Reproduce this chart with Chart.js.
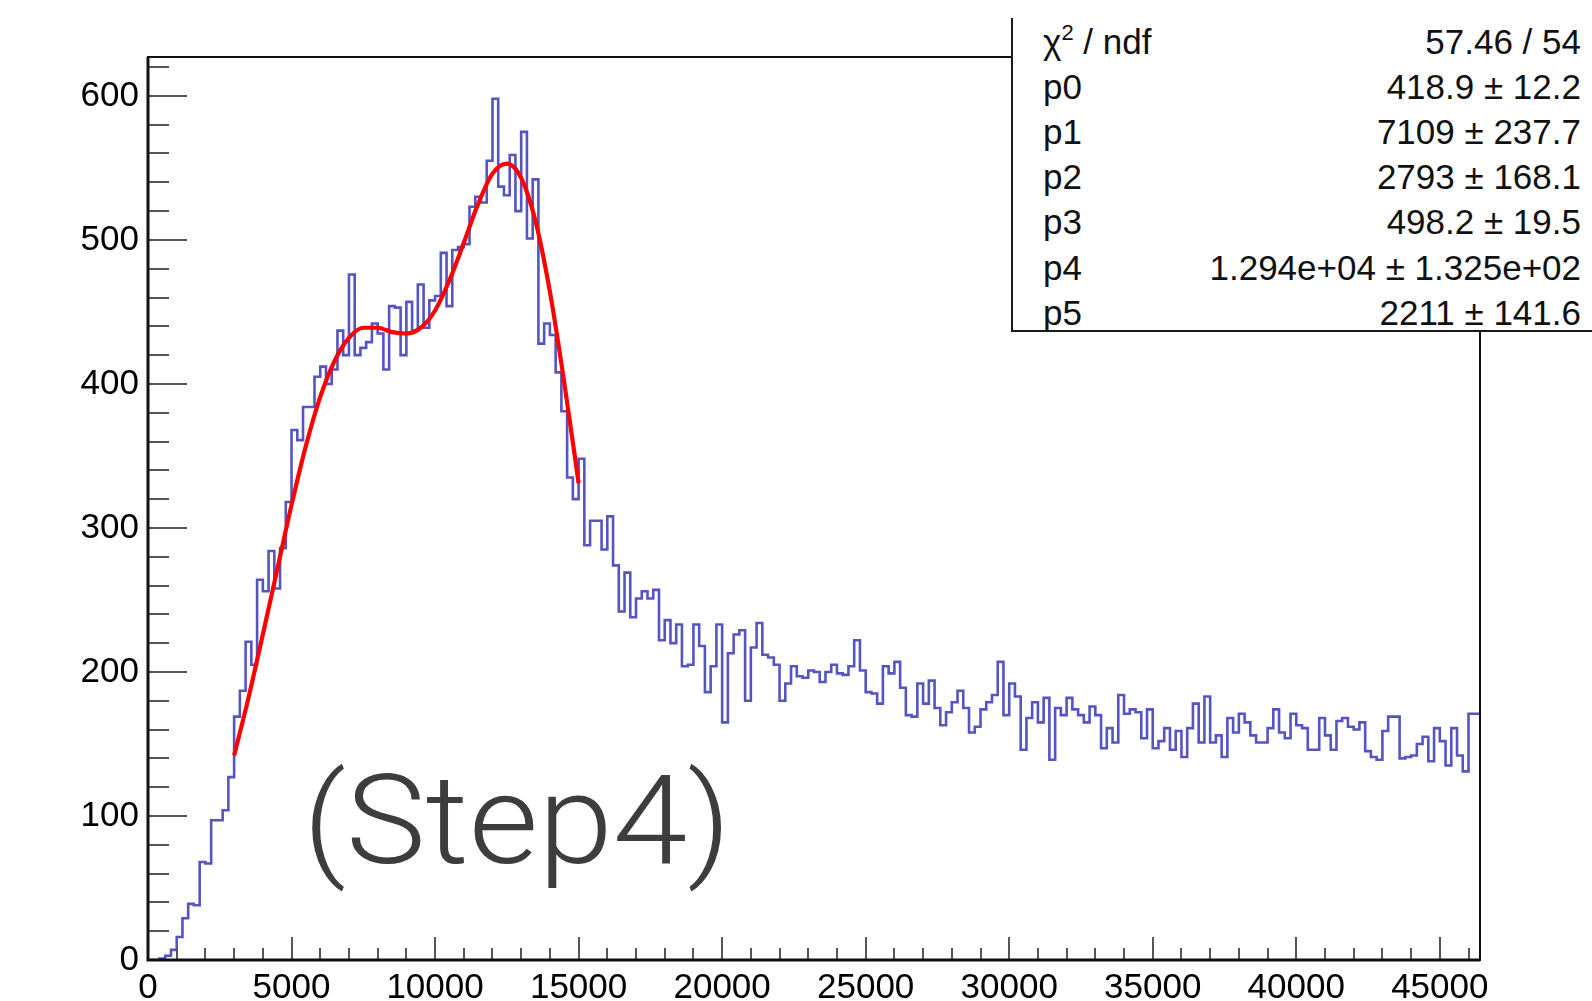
<!DOCTYPE html>
<html>
<head>
<meta charset="utf-8">
<script src="https://cdn.jsdelivr.net/npm/chart.js@4.4.1/dist/chart.umd.min.js"></script>
<style>
  html, body { margin: 0; padding: 0; background: #ffffff; }
  #wrap { position: relative; width: 1592px; height: 1001px; overflow: hidden; background: #fff; }
  #c { position: absolute; left: 0; top: 0; }
  #stats { position: absolute; left: 1011px; top: 18px; width: 600px; height: 312px; background: #fff;
           border-left: 2px solid #1a1a1a; border-bottom: 2px solid #1a1a1a;
           font-family: 'Liberation Sans', Arial, Helvetica, sans-serif; font-size: 35px; color: #111; }
  .row { position: absolute; left: 0; width: 568px; height: 35px; line-height: 35px; white-space: nowrap; }
  .row .k { position: absolute; left: 30px; top: 0; }
  .row .v { position: absolute; right: 0; top: 0; }
  .row sup { font-size: 22px; line-height: 0; vertical-align: 14px; }
  #step { position: absolute; left: 303px; top: 758px; font-family: Roboto, 'Open Sans', 'Liberation Sans', sans-serif;
          font-weight: 300; font-size: 125px; line-height: 1; color: #3d3d3d; white-space: nowrap;
          transform: scaleX(1.075); transform-origin: 0 0; }
</style>
</head>
<body>
<div id="wrap">
  <canvas id="c" width="1592" height="1001"></canvas>
  <div id="step">(Step4)</div>
  <div id="stats"></div>
</div>
<script>
// ---------------- data ----------------
const binWidth = 200;          // histogram bin width
const counts = [
  0, 0, 0, 1, 3, 7, 16, 29, 39, 38,
  68, 67, 97, 97, 104, 127, 169, 187, 221, 205,
  264, 256, 284, 258, 286, 318, 368, 361, 384, 384,
  405, 412, 400, 410, 437, 420, 476, 420, 425, 429,
  442, 435, 410, 454, 453, 420, 457, 437, 469, 439,
  458, 461, 491, 454, 493, 495, 497, 523, 530, 526,
  555, 598, 537, 531, 559, 520, 575, 501, 542, 428,
  442, 434, 408, 381, 335, 320, 348, 288, 305, 305,
  285, 308, 274, 242, 269, 238, 251, 256, 251, 257,
  222, 236, 220, 233, 204, 205, 233, 218, 186, 204,
  233, 165, 213, 226, 229, 180, 217, 234, 212, 210,
  205, 180, 192, 204, 197, 196, 201, 200, 193, 200,
  205, 199, 198, 204, 222, 201, 186, 185, 178, 204,
  199, 207, 189, 170, 169, 192, 178, 194, 175, 163,
  172, 179, 187, 175, 158, 162, 174, 179, 184, 207,
  170, 192, 183, 146, 168, 179, 165, 182, 139, 175,
  170, 182, 174, 170, 165, 176, 170, 147, 161, 151,
  184, 171, 174, 172, 154, 174, 147, 152, 161, 146,
  159, 141, 161, 178, 151, 183, 151, 156, 141, 168,
  158, 171, 165, 156, 151, 151, 161, 174, 158, 154,
  171, 163, 161, 146, 146, 168, 156, 146, 166, 168,
  162, 160, 165, 145, 141, 139, 159, 169, 169, 140,
  141, 142, 150, 155, 138, 161, 152, 135, 161, 142,
  131, 171
];
const fitX = [3000, 3500, 4000, 4500, 5000, 5500, 6000, 6500, 7000, 7500, 8000, 8500, 9000,
              9500, 10000, 10500, 11000, 11500, 12000, 12500, 13000, 13500, 14000, 14500, 15000];
const fitY = [142, 182, 226, 271, 316, 357, 391, 416, 432, 439, 439, 436, 435,
              439, 451, 472, 498, 525, 546, 553, 543, 513, 464, 401, 331];
const xTickValues = [0, 5000, 10000, 15000, 20000, 25000, 30000, 35000, 40000, 45000];
const yTickValues = [0, 100, 200, 300, 400, 500, 600];
const xMinorStep = 1000;
const yMinorStep = 20;
const xRange = [0, 46400];
const yRange = [0, 627];
const statsLabels = ['χ<sup>2</sup> / ndf', 'p0', 'p1', 'p2', 'p3', 'p4', 'p5'];
const statsValues = ['57.46 / 54', '418.9 ± 12.2', '7109 ± 237.7', '2793 ± 168.1',
                     '498.2 ± 19.5', '1.294e+04 ± 1.325e+02', '2211 ± 141.6'];

// ---------------- stats box ----------------
const stats = document.getElementById('stats');
statsLabels.forEach((lab, i) => {
  const r = document.createElement('div');
  r.className = 'row';
  r.style.top = (6 + i * 45.1) + 'px';
  r.innerHTML = '<span class="k">' + lab + '</span><span class="v">' + statsValues[i] + '</span>';
  stats.appendChild(r);
});

// ---------------- datasets ----------------
const histPoints = counts.map((c, i) => ({ x: i * binWidth, y: c }));
histPoints.push({ x: counts.length * binWidth, y: counts[counts.length - 1] });
const fitPoints = fitX.map((x, i) => ({ x: x, y: fitY[i] }));

const FONT = "'Liberation Sans', Arial, Helvetica, sans-serif";

const rootFrame = {
  id: 'rootFrame',
  afterDatasetsDraw(chart) {
    const ctx = chart.ctx;
    const xs = chart.scales.x, ys = chart.scales.y;
    const a = chart.chartArea;
    ctx.save();
    ctx.strokeStyle = '#555';
    ctx.lineWidth = 2;
    ctx.beginPath();
    // x ticks (inside, pointing up)
    for (let v = xRange[0]; v <= xRange[1]; v += xMinorStep) {
      const px = Math.round(xs.getPixelForValue(v));
      const major = xTickValues.includes(v);
      ctx.moveTo(px, a.bottom);
      ctx.lineTo(px, a.bottom - (major ? 23 : 12));
    }
    // y ticks (inside, pointing right)
    for (let v = yRange[0]; v <= yRange[1]; v += yMinorStep) {
      const py = Math.round(ys.getPixelForValue(v));
      const major = yTickValues.includes(v);
      ctx.moveTo(a.left, py);
      ctx.lineTo(a.left + (major ? 39 : 21), py);
    }
    ctx.stroke();
    // frame
    ctx.strokeStyle = '#111';
    ctx.lineWidth = 2;
    ctx.strokeRect(a.left, a.top, a.right - a.left, a.bottom - a.top);
    ctx.lineWidth = 3;
    ctx.beginPath();
    ctx.moveTo(a.left, a.top); ctx.lineTo(a.left, a.bottom + 1.5);
    ctx.moveTo(a.left - 1.5, a.bottom); ctx.lineTo(a.right, a.bottom);
    ctx.stroke();
    ctx.restore();
  }
};

new Chart(document.getElementById('c'), {
  type: 'line',
  data: {
    datasets: [
      {
        label: 'hist',
        data: histPoints,
        stepped: 'after',
        borderColor: 'rgb(84,84,194)',
        borderWidth: 2.6,
        pointRadius: 0,
        fill: false,
        order: 2
      },
      {
        label: 'fit',
        data: fitPoints,
        borderColor: '#ff0000',
        borderWidth: 4.2,
        pointRadius: 0,
        cubicInterpolationMode: 'monotone',
        fill: false,
        order: 1
      }
    ]
  },
  options: {
    responsive: false,
    devicePixelRatio: 1,
    animation: false,
    events: [],
    layout: { autoPadding: false, padding: { left: 0, top: 57, right: 112, bottom: 0 } },
    plugins: { legend: { display: false }, tooltip: { enabled: false } },
    scales: {
      x: {
        type: 'linear',
        min: xRange[0], max: xRange[1],
        grid: { display: false, drawTicks: false },
        border: { display: false },
        ticks: { font: { family: FONT, size: 35 }, color: '#000', padding: 7, maxRotation: 0, autoSkip: false,
                 callback: v => String(v) },
        afterBuildTicks: s => { s.ticks = xTickValues.map(v => ({ value: v })); },
        afterFit: s => { s.height = 41; }
      },
      y: {
        type: 'linear',
        min: yRange[0], max: yRange[1],
        grid: { display: false, drawTicks: false },
        border: { display: false },
        ticks: { font: { family: FONT, size: 35 }, color: '#000', padding: 9, autoSkip: false,
                 callback: v => String(v) },
        afterBuildTicks: s => { s.ticks = yTickValues.map(v => ({ value: v })); },
        afterFit: s => { s.width = 148; }
      }
    }
  },
  plugins: [rootFrame]
});
</script>
</body>
</html>
